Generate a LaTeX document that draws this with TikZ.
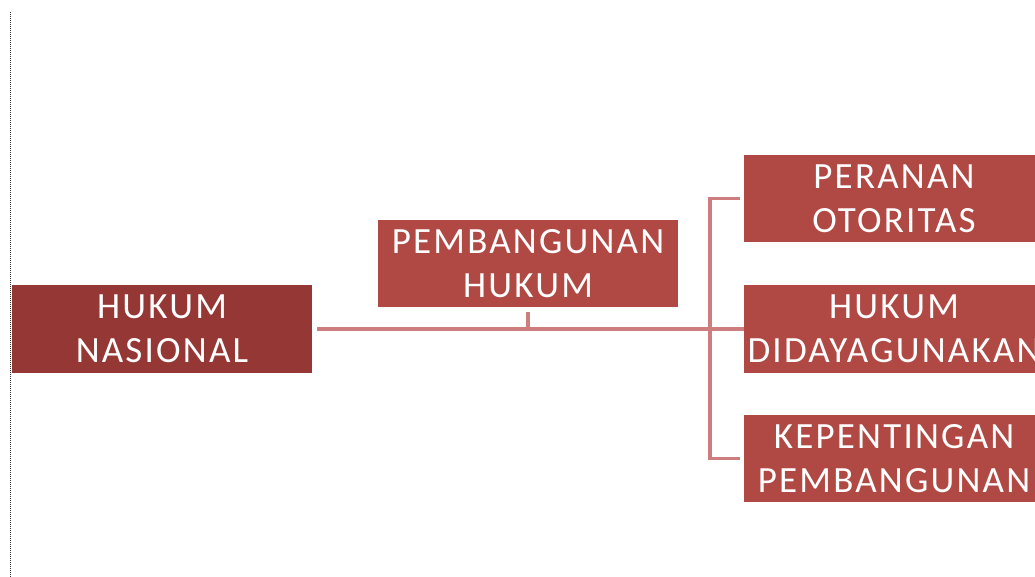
\documentclass[tikz,border=0pt]{standalone}
\usepackage{fontspec}
\setmainfont{Carlito}[LetterSpace=6]
\usetikzlibrary{calc}

\definecolor{darkbox}{RGB}{149,55,53}
\definecolor{redbox}{RGB}{176,72,68}
\definecolor{linkred}{RGB}{205,125,125}

\tikzset{
  kotak/.style={fill=redbox, text=white, align=center, inner sep=0pt,
    minimum width=300pt, minimum height=87pt,
    font=\fontsize{37}{44}\selectfont},
  garis/.style={linkred, line width=3.5pt}
}

\begin{document}
\begin{tikzpicture}[x=1pt,y=1pt]

\useasboundingbox (0,0) rectangle (1035,577);

\draw[black!80,densely dotted,line width=1pt] (10,565) -- (10,0);

\node[kotak,fill=darkbox,minimum height=88pt] (nasional) at (162,248) {HUKUM\\NASIONAL};
\node[kotak] (pembangunan) at (528,313.5) {PEMBANGUNAN\\HUKUM};
\node[kotak] (peranan) at (894,378.5) {PERANAN\\OTORITAS};
\node[kotak,minimum height=88pt] (didaya) at (894,248) {HUKUM\\DIDAYAGUNAKAN};
\node[kotak] (kepentingan) at (894,118.5) {KEPENTINGAN\\PEMBANGUNAN};

\coordinate (kiri) at ($(nasional.east)+(5,0)$);
\coordinate (tengah) at (pembangunan.south |- kiri);
\coordinate (atas) at (710,0 |- peranan.west);
\coordinate (bawah) at (710,0 |- kepentingan.west);

\draw[garis] (kiri) -- (didaya.west);
\draw[garis] ($(pembangunan.south)+(0,-5)$) -- (tengah);
\draw[garis] ($(peranan.west)+(-4,0)$) -- (atas) -- (bawah) -- ($(kepentingan.west)+(-4,0)$);

\end{tikzpicture}
\end{document}
